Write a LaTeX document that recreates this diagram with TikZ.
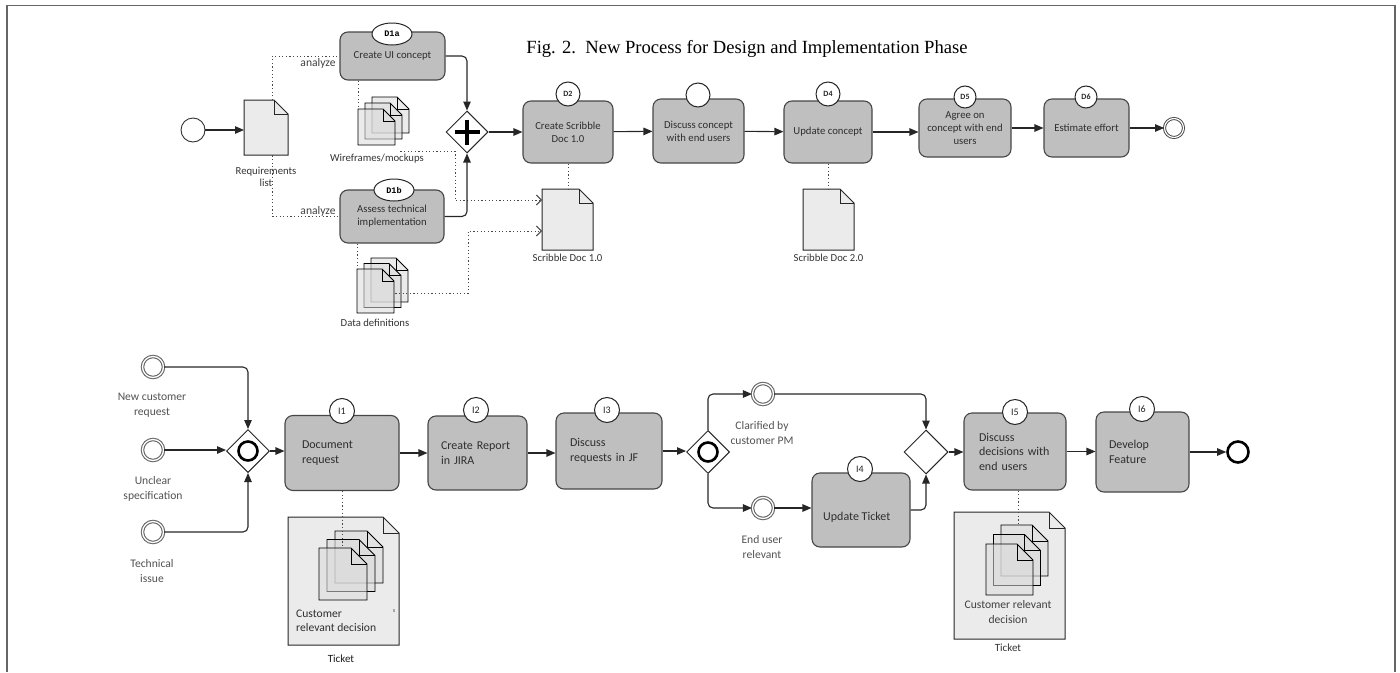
\documentclass[tikz,border=0pt]{standalone}
\usepackage{fontspec}
\setmainfont{Carlito}
\newfontfamily\capfont{Liberation Serif}
\newfontfamily\lblmono{Liberation Mono}
\usetikzlibrary{shapes.geometric,arrows.meta,calc}

\newcommand{\docat}[7]{%
  \draw[#7] (#2,#3) -- ++({#4-#6},0) -- ++(#6,#6) -- ++(0,{#5-#6}) -- ++({-#4},0) -- cycle;
  \draw[#7, fill=none] ({#2+#4-#6},#3) -- ++(0,#6) -- ++(#6,0);
  \node[inner sep=0pt, minimum width=#4pt, minimum height=#5pt, anchor=north west] (#1) at (#2,#3) {};
}
\newcommand{\multidoc}[8]{%
  \docat{#1b}{#2+2*#6}{#3+2*#7}{#4}{#5}{#8}{mdoc}
  \docat{#1m}{#2+#6}{#3+#7}{#4}{#5}{#8}{mdoc}
  \docat{#1}{#2}{#3}{#4}{#5}{#8}{mdoc}
}

\tikzset{
  frameline/.style={draw=black!60, line width=1.4pt},
  task/.style={rectangle, rounded corners=8pt, draw=black!72, fill=black!25, line width=1.1pt, inner sep=0pt, text=black!82},
  toptext/.style={font=\fontsize{10.7}{13}\selectfont, align=center},
  bottext/.style={font=\fontsize{12}{14.5}\selectfont, align=left},
  numlbl/.style={circle, draw=black!85, fill=white, line width=1pt, inner sep=0pt, minimum size=24pt, font=\bfseries\fontsize{8}{9}\selectfont, text=black!85},
  inum/.style={numlbl, minimum size=25pt, font=\fontsize{10}{11}\selectfont},
  elllbl/.style={ellipse, draw=black!85, fill=white, line width=1pt, inner sep=0pt, minimum width=40pt, minimum height=22pt, font=\lblmono\bfseries\fontsize{8.5}{9}\selectfont},
  docfill/.style={draw=black!85, line width=1pt, fill=black!8},
  mdoc/.style={draw=black, line width=0.9pt, fill=black!14, fill opacity=0.55},
  doclbl/.style={font=\fontsize{10.7}{12.5}\selectfont, text=black!80, align=center, inner sep=1pt},
  lbltext/.style={font=\fontsize{11.6}{15}\selectfont, text=black!68, align=center, inner sep=1pt},
  flow/.style={draw=black!85, line width=1.1pt, rounded corners=5pt, -{Triangle[length=9pt,width=7.5pt]}},
  assoc/.style={draw=black!72, line width=0.9pt, dash pattern=on 1.2pt off 2.4pt},
  assocarr/.style={assoc, -{Straight Barb[length=5pt,width=10pt]}},
  gw/.style={diamond, draw=black!85, fill=white, line width=1pt, minimum width=42pt, minimum height=42pt, inner sep=0pt},
  incl/.style={circle, draw=black, line width=2.6pt, minimum size=19pt, inner sep=0pt},
  startev/.style={circle, draw=black!80, line width=0.9pt, fill=white, minimum size=24pt, inner sep=0pt},
  endtop/.style={circle, draw=black!75, double=white, double distance=1.2pt, line width=0.9pt, minimum size=19pt, inner sep=0pt},
  startb/.style={circle, draw=black!60, double=white, double distance=1.3pt, line width=1.1pt, fill=white, minimum size=21pt, inner sep=0pt},
  endb/.style={circle, draw=black, line width=2.6pt, fill=white, minimum size=21pt, inner sep=0pt},
}

\begin{document}
\begin{tikzpicture}[x=1pt,y=-1pt]
\useasboundingbox (0,0) rectangle (1400,672);
\draw[frameline] (7,672) -- (7,5.5) -- (1395,5.5) -- (1395,672);

\node[font=\capfont\fontsize{18.6}{22}\selectfont] (cap) at (747,49) {Fig. 2.\ \ New Process for Design and Implementation Phase};

% ---------------- top row ----------------
\node[startev] (s0) at (193,130) {};
\docat{req}{244}{100}{44}{55}{14}{docfill}

\node[task, minimum width=105pt, minimum height=48pt, toptext] (d1a) at (392.5,56) {Create UI concept};
\node[task, minimum width=104pt, minimum height=53pt, toptext] (d1b) at (392,216.5) {Assess technical\\implementation};

\draw[assoc] ([xshift=6pt]req.north) |- (d1a.west);
\draw[assoc] ([xshift=6pt]req.south) |- (d1b.west);
\node[doclbl] (reqlbl) at (266,177) {Requirements\\list};
\node[lbltext, text=black!75] (an1) at (318,63) {analyze};
\node[lbltext, text=black!75] (an2) at (318,211) {analyze};

\node[elllbl] (d1al) at (392,34) {D1a};
\node[elllbl] (d1bl) at (394,190) {D1b};

\multidoc{wf}{358}{109}{37}{36}{7}{-6}{12}
\node[doclbl] (wflbl) at (377,159) {Wireframes/mockups};
\multidoc{dd}{357}{269}{37}{44}{7}{-5.5}{12}
\node[doclbl] (ddlbl) at (375,323) {Data definitions};

\draw[assoc] (d1a.south -| wf.north west) -- (wf.north west);
\draw[assoc] (d1b.south -| dd.north west) -- (dd.north west);

\node[gw] (pg) at (467,132) {};
\draw[line width=4.5pt] ([yshift=12.5pt]pg.center) -- ([yshift=-12.5pt]pg.center);
\draw[line width=4.5pt] ([xshift=-12.5pt]pg.center) -- ([xshift=12.5pt]pg.center);

\node[task, minimum width=90pt, minimum height=62pt, toptext] (d2) at (568,132) {Create Scribble\\Doc 1.0};
\node[task, minimum width=91pt, minimum height=64pt, toptext] (d3) at (698.5,131) {Discuss concept\\with end users};
\node[task, minimum width=88pt, minimum height=62pt, toptext] (d4) at (828,132) {Update concept};
\node[task, minimum width=92pt, minimum height=58pt, toptext] (d5) at (965,128) {Agree on\\concept with end\\users};
\node[task, minimum width=85pt, minimum height=58pt, toptext] (d6) at (1086.5,128) {Estimate effort};
\node[endtop] (e0) at (1174,128) {};

\node[numlbl] (d2l) at (568,94) {D2};
\node[numlbl] (d3l) at (698,95) {};
\node[numlbl] (d4l) at (828,94) {D4};
\node[numlbl, minimum size=22pt] (d5l) at (965,97) {D5};
\node[numlbl, minimum size=22pt] (d6l) at (1086,97) {D6};

\docat{sd1}{542}{189}{51}{61}{14}{docfill}
\node[doclbl] (sd1lbl) at (567.5,258) {Scribble Doc 1.0};
\docat{sd2}{803}{189}{51}{61}{14}{docfill}
\node[doclbl] (sd2lbl) at (828.5,258) {Scribble Doc 2.0};

\draw[assoc] (d2.south) -- (d2.south |- sd1.north);
\draw[assoc] (d4.south) -- (d4.south |- sd2.north);
\draw[assocarr] ([shift={(5,6)}]wf.south east) -| (455,200) -- ([yshift=-11pt]sd1.north west);
\draw[assocarr] ([shift={(1,-20)}]dd.south east) -| (468,231) -- ([yshift=-42pt]sd1.north west);

\draw[flow] (s0) -- (s0 -| req.west);
\draw[flow] (d1a.east) -| (pg.north);
\draw[flow] (d1b.east) -| (pg.south);
\draw[flow] (pg) -- (d2);
\draw[flow] (d2) -- (d3);
\draw[flow] (d3) -- (d4);
\draw[flow] (d4.east) -- (d4.east -| d5.west);
\draw[flow] (d5) -- (d6);
\draw[flow] (d6) -- (e0);

% ---------------- bottom row ----------------
\node[startb] (n1) at (153,367) {};
\node[lbltext] (n1l) at (152,405) {New customer\\request};
\node[startb] (n2) at (153,450) {};
\node[lbltext] (n2l) at (153,489) {Unclear\\specification};
\node[startb] (n3) at (153,532) {};
\node[lbltext] (n3l) at (152,571) {Technical\\issue};

\node[gw, minimum width=43pt, minimum height=43pt] (g1) at (248,451) {};
\node[incl] (g1c) at (g1.center) {};

\node[task, minimum width=114pt, minimum height=75pt, bottext, text width=80pt, inner xsep=17pt] (i1) at (342,453) {Document\\request};
\node[task, minimum width=99pt, minimum height=74pt, bottext, text width=73pt, inner xsep=13pt] (i2) at (477.5,453) {Create Report\\in JIRA};
\node[task, minimum width=106pt, minimum height=76pt, bottext, text width=78pt, inner xsep=14pt] (i3) at (609,451) {Discuss\\requests in JF};

\node[gw, minimum width=43pt, minimum height=43pt] (g2) at (708,452) {};
\node[incl] (g2c) at (g2.center) {};

\node[startb] (c1) at (763,394) {};
\node[lbltext] (c1l) at (762,433) {Clarified by\\customer PM};
\node[startb] (c2) at (763,508) {};
\node[lbltext] (c2l) at (762,547) {End user\\relevant};

\node[task, minimum width=98pt, minimum height=74pt] (i4) at (861,510) {};
\node[bottext, anchor=west, text=black!82, inner sep=0pt] (i4t) at (823,517) {Update Ticket};

\node[gw, minimum width=44pt, minimum height=44pt] (g3) at (926,452) {};

\node[task, minimum width=102pt, minimum height=77pt, bottext, text width=72pt, inner xsep=15pt] (i5) at (1015,451.5) {Discuss\\decisions with\\end users};
\node[task, minimum width=93pt, minimum height=80pt, bottext, text width=67pt, inner xsep=13pt] (i6) at (1142.5,452) {Develop\\Feature};
\node[endb] (e1) at (1238,452) {};

\node[inum] (i1l) at (342,411) {I1};
\node[inum] (i2l) at (476,410) {I2};
\node[inum] (i3l) at (607,410) {I3};
\node[inum] (i4l) at (860,469) {I4};
\node[inum] (i5l) at (1015,412) {I5};
\node[inum] (i6l) at (1142,409) {I6};

% ticket documents
\docat{tk1}{288}{517}{111}{128}{16}{docfill}
\multidoc{tk1i}{319}{548}{48}{52}{8}{-8.5}{16}
\node[anchor=west, align=left, font=\fontsize{11.6}{14.5}\selectfont, text=black!82, inner sep=0pt] (tk1t) at (296,621) {Customer\\relevant decision};
\node[font=\fontsize{6}{7}\selectfont, text=black!70, inner sep=0pt] (tk1s) at (394,611) {s};
\node[doclbl, text=black!90, font=\fontsize{11}{12}\selectfont] (tk1l) at (341,659) {Ticket};
\draw[assoc] (i1.south) -- (i1.south |- tk1i.north);

\docat{tk2}{954}{512}{111}{127}{16}{docfill}
\multidoc{tk2i}{986}{544}{47}{51}{7.5}{-9.5}{16}
\node[lbltext, text=black!75, font=\fontsize{11.6}{14.5}\selectfont] (tk2t) at (1008,612) {Customer relevant\\decision};
\node[doclbl, font=\fontsize{11}{12}\selectfont] (tk2l) at (1008,648) {Ticket};
\draw[assoc] ([xshift=3pt]i5.south) -- ([xshift=3pt]i5.south |- tk2ib.north);

% flows bottom
\draw[flow] (n1.east) -| (g1.north);
\draw[flow] (n2.east) -- (n2.east -| g1.west);
\draw[flow] (n3.east) -| (g1.south);
\draw[flow] (g1.east) -- (g1.east -| i1.west);
\draw[flow] (i1.east) -- (i1.east -| i2.west);
\draw[flow] (i2.east) -- (i2.east -| i3.west);
\draw[flow] (i3.east) -- (i3.east -| g2.west);
\draw[flow] (g2.north) |- (c1.west);
\draw[flow] (g2.south) |- (c2.west);
\draw[flow] (c2.east) -- (c2.east -| i4.west);
\draw[flow] (c1.east) -| (g3.north);
\draw[flow] (i4.east) -| (g3.south);
\draw[flow] (g3.east) -- (g3.east -| i5.west);
\draw[flow] (i5.east) -- (i5.east -| i6.west);
\draw[flow] (i6.east) -- (i6.east -| e1.west);
\end{tikzpicture}
\end{document}
